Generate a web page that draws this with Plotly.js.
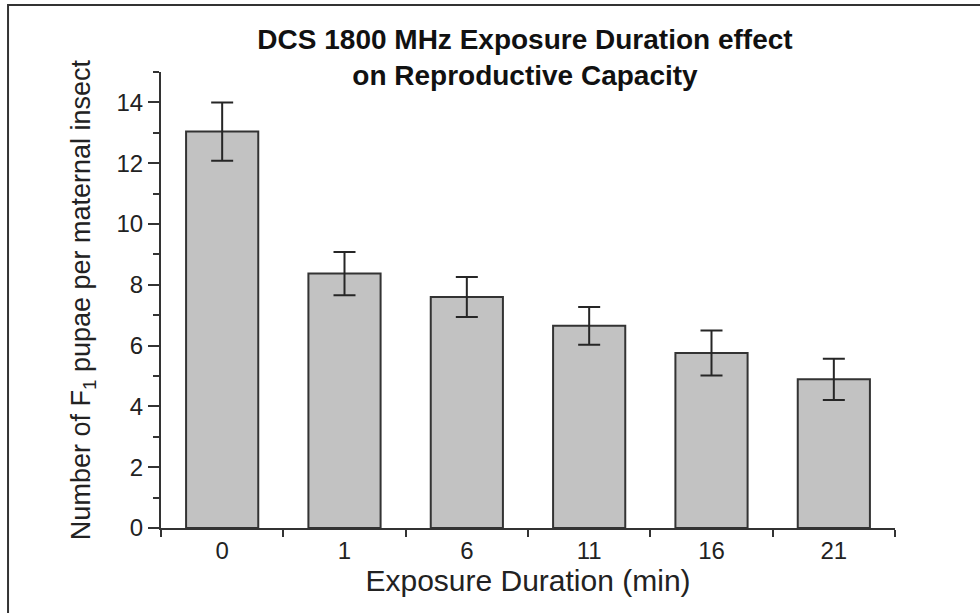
<!DOCTYPE html>
<html>
<head>
<meta charset="utf-8">
<script src="https://cdn.plot.ly/plotly-3.0.1.min.js"></script>
<style>html,body{margin:0;padding:0;background:#fff;}#chart{width:980px;height:613px;}</style>
</head>
<body>
<div id="chart"></div>
<script>
const categories = ['0', '1', '6', '11', '16', '21'];
const pupaeMeans = [13.04, 8.37, 7.60, 6.65, 5.76, 4.89];
const pupaeErrors = [0.96, 0.71, 0.66, 0.62, 0.74, 0.68];
const yTickValues = [0, 2, 4, 6, 8, 10, 12, 14];

const FONT = 'Arial, "Liberation Sans", Helvetica, sans-serif';
const INK = '#222222';

const trace = {
  type: 'bar',
  x: categories,
  y: pupaeMeans,
  width: 0.59,
  marker: { color: '#c2c2c2', line: { color: '#333333', width: 2 } },
  error_y: { type: 'data', array: pupaeErrors, visible: true, color: '#262626', thickness: 2, width: 11 },
  hoverinfo: 'x+y'
};

const layout = {
  width: 980, height: 613,
  margin: { l: 161, r: 85, t: 72, b: 85 },
  paper_bgcolor: '#ffffff', plot_bgcolor: '#ffffff',
  showlegend: false,
  font: { family: FONT, color: INK },
  title: {
    text: '<b>DCS 1800 MHz Exposure Duration effect<br>on Reproductive Capacity</b>',
    font: { family: FONT, size: 28, color: '#111111' },
    x: 0.5357, xref: 'container', xanchor: 'center',
    y: 1 - 49 / 613, yref: 'container', yanchor: 'top'
  },
  xaxis: {
    type: 'category',
    range: [-0.5, 5.5],
    showgrid: false, zeroline: false,
    showline: true, linecolor: '#333333', linewidth: 2,
    ticks: 'outside', tickson: 'boundaries', ticklen: 7, tickwidth: 2, tickcolor: '#333333',
    tickfont: { family: FONT, size: 24, color: INK },
    title: { text: 'Exposure Duration (min)', font: { family: FONT, size: 30, color: INK }, standoff: 5 }
  },
  yaxis: {
    range: [0, 15.001],
    showgrid: false, zeroline: false,
    showline: true, linecolor: '#333333', linewidth: 2,
    tickmode: 'array', tickvals: yTickValues,
    ticks: 'outside', ticklen: 11, tickwidth: 2, tickcolor: '#333333',
    minor: { dtick: 1, tick0: 0, ticks: 'outside', ticklen: 6, tickwidth: 2, tickcolor: '#333333', showgrid: false },
    tickfont: { family: FONT, size: 24, color: INK },
    title: { text: 'Number of F<sub>1</sub> pupae per maternal insect', font: { family: FONT, size: 27, color: INK }, standoff: 18 }
  },
  shapes: [
    { type: 'rect', xref: 'paper', yref: 'paper',
      x0: -0.2084, x1: 1.25, y0: -0.3, y1: 1.1469,
      line: { color: '#333333', width: 2 }, fillcolor: 'rgba(0,0,0,0)', layer: 'below' }
  ]
};

Plotly.newPlot('chart', [trace], layout, { staticPlot: true, displayModeBar: false });
</script>
</body>
</html>
